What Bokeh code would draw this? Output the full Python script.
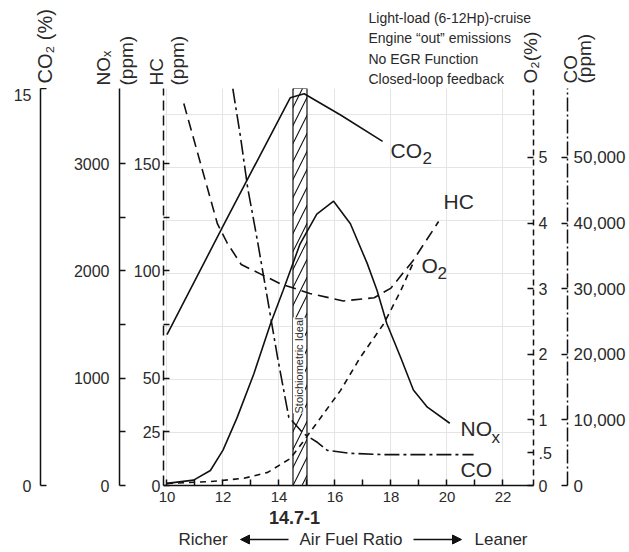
from math import pi
from bokeh.plotting import figure
from bokeh.layouts import column
from bokeh.models import (Range1d, LinearAxis, FixedTicker, Label, Arrow,
                          NormalHead, NumeralTickFormatter)
from bokeh.core.properties import value
from bokeh.embed import file_html
from bokeh.resources import INLINE

FONT = "Liberation Sans"
INK = "#111111"
TXT = "#2a2a2a"

# ---------------- data ----------------
afr_co2 = [10.0, 12.0, 14.4, 14.9, 16.2, 17.7]
co2_pct = [5.7, 9.8, 14.65, 14.8, 14.0, 13.0]

afr_nox = [10.0, 10.95, 11.55, 12.0, 12.5, 13.1, 13.7, 14.15, 14.75, 15.35,
           15.95, 16.55, 17.15, 17.5, 17.85, 18.35, 18.8, 19.3, 20.1]
nox_ppm = [20, 50, 140, 330, 630, 1040, 1510, 1820, 2250, 2530,
           2650, 2440, 2070, 1820, 1510, 1190, 890, 730, 580]

afr_hc = [10.6, 11.2, 11.8, 12.15, 12.65, 13.35, 14.05, 15.1, 16.3, 17.4,
          18.0, 18.8, 19.7]
hc_ppm = [178, 150, 122, 113, 103, 98.5, 94, 89.5, 86, 87.5, 92, 105, 123]

afr_o2 = [10.0, 11.55, 12.75, 13.6, 14.4, 14.9, 15.5, 16.2, 16.9, 17.75, 18.35, 18.8]
o2_pct = [0.03, 0.06, 0.11, 0.2, 0.41, 0.69, 1.04, 1.45, 1.95, 2.47, 2.97, 3.4]

afr_co = [12.35, 12.63, 12.88, 13.23, 13.6, 13.95, 14.35, 14.52, 14.88, 15.38,
          15.73, 16.55, 17.73, 20.95]
co_ppm = [60500, 53000, 45400, 37300, 28200, 19500, 10400, 9600, 7900, 6550,
          5350, 4900, 4700, 4700]

stoich_band = [14.5, 15.0]

x_ticks = [10, 12, 14, 16, 18, 20, 22]
x_minor = [11, 13, 15, 17, 19, 21]
co2_ticks = [0, 15]
nox_ticks = [0, 1000, 2000, 3000]
nox_minor = [500, 1500, 2500]
hc_ticks = [0, 25, 50, 100, 150]
hc_minor = [75, 125]
o2_ticks = [0, 0.5, 1, 2, 3, 4, 5]
co_ticks = [0, 10000, 20000, 30000, 40000, 50000]

notes = ["Light-load (6-12Hp)-cruise", "Engine \u201cout\u201d emissions",
         "No EGR Function", "Closed-loop feedback"]

W = 629
TOP_H = 88
MAIN_H = 420
BOT_H = 552 - TOP_H - MAIN_H


def blank_fig(height, y_top):
    f = figure(width=W, height=height, output_backend="svg", toolbar_location=None,
               x_range=Range1d(0, W), y_range=Range1d(y_top + height, y_top),
               x_axis_location=None, y_axis_location=None,
               min_border_left=0, min_border_right=0,
               min_border_top=0, min_border_bottom=0, frame_align=False)
    f.outline_line_color = None
    f.grid.grid_line_color = None
    f.background_fill_color = "white"
    f.border_fill_color = "white"
    return f


def txt(f, x, y, text, size, align="left", baseline="middle", angle=0.0, bold=False):
    f.text(x=[x], y=[y], text=[text], angle=angle,
           text_font=value(FONT), text_font_size=value(f"{size}px"),
           text_align=align, text_baseline=baseline, text_color=TXT,
           text_font_style="bold" if bold else "normal")


# ---------------- top strip: axis titles + notes ----------------
top = blank_fig(TOP_H, 0)
txt(top, 44, 83, "CO\u2082 (%)", 20, angle=pi / 2)
txt(top, 103, 85, "NO\u2093", 19, angle=pi / 2)
txt(top, 126, 85, "(ppm)", 19, angle=pi / 2)
txt(top, 156, 85, "HC", 19, angle=pi / 2)
txt(top, 177, 85, "(ppm)", 19, angle=pi / 2)
txt(top, 530, 83, "O\u2082(%)", 19, angle=pi / 2)
txt(top, 570, 83, "CO", 19, angle=pi / 2)
txt(top, 584, 83, "(ppm)", 19, angle=pi / 2)
for i, t in enumerate(notes):
    txt(top, 368, 17 + i * 20.5, t, 14)

# ---------------- main chart ----------------
p = figure(width=W, height=MAIN_H, output_backend="svg", toolbar_location=None,
           x_range=Range1d(9.875, 23.09), y_range=Range1d(0, 15),
           x_axis_location=None, y_axis_location=None,
           min_border_left=163, min_border_right=96,
           min_border_top=0, min_border_bottom=23, frame_align=False)
p.outline_line_color = None
p.background_fill_color = "white"
p.border_fill_color = "white"
p.extra_y_ranges = {"nox": Range1d(0, 3700), "hc": Range1d(0, 185),
                    "o2": Range1d(0, 6.05), "co": Range1d(0, 60500)}


def style_axis(ax, size="16px", standoff=6, pad=None, dash="solid"):
    ax.axis_line_color = INK
    ax.axis_line_width = 1.5
    ax.axis_line_dash = dash
    ax.major_tick_line_color = INK
    ax.major_tick_line_width = 1.5
    ax.major_tick_in = 6
    ax.major_tick_out = 0
    ax.minor_tick_line_color = INK
    ax.minor_tick_line_width = 1.5
    ax.minor_tick_in = 6
    ax.minor_tick_out = 0
    ax.major_label_text_font = FONT
    ax.major_label_text_font_size = size
    ax.major_label_text_color = TXT
    ax.major_label_standoff = standoff
    if pad is not None:
        ax.axis_label = "\u00a0"
        ax.axis_label_text_font_size = "1px"
        ax.axis_label_standoff = pad


xax = LinearAxis(ticker=FixedTicker(ticks=x_ticks, minor_ticks=x_minor))
style_axis(xax, size="15px", standoff=6)
p.add_layout(xax, "below")

hc_ax = LinearAxis(y_range_name="hc", ticker=FixedTicker(ticks=hc_ticks, minor_ticks=hc_minor))
style_axis(hc_ax, standoff=3, pad=7, dash="10 5")
p.add_layout(hc_ax, "left")

nox_ax = LinearAxis(y_range_name="nox", ticker=FixedTicker(ticks=nox_ticks, minor_ticks=nox_minor))
style_axis(nox_ax, standoff=10, pad=26)
p.add_layout(nox_ax, "left")

co2_ax = LinearAxis(ticker=FixedTicker(ticks=co2_ticks))
style_axis(co2_ax, standoff=9)
p.add_layout(co2_ax, "left")

o2_ax = LinearAxis(y_range_name="o2", ticker=FixedTicker(ticks=o2_ticks))
o2_ax.major_label_overrides = {0.5: ".5"}
style_axis(o2_ax, standoff=5, pad=9, dash="6 4")
p.add_layout(o2_ax, "right")

co_ax = LinearAxis(y_range_name="co", ticker=FixedTicker(ticks=co_ticks),
                   formatter=NumeralTickFormatter(format="0,0"))
style_axis(co_ax, size="17px", standoff=6, dash="14 3 2 3")
p.add_layout(co_ax, "right")

# stoichiometric band
p.quad(left=[stoich_band[0]], right=[stoich_band[1]], bottom=[0], top=[15],
       fill_color="white", line_color=INK, line_width=1.2,
       hatch_pattern="/", hatch_color=INK, hatch_scale=18, hatch_weight=1.1)

# curves
p.line(afr_co2, co2_pct, line_color=INK, line_width=1.6)
p.line(afr_nox, nox_ppm, y_range_name="nox", line_color=INK, line_width=1.6)
p.line(afr_hc, hc_ppm, y_range_name="hc", line_color=INK, line_width=1.6,
       line_dash="11 6")
p.line(afr_o2, o2_pct, y_range_name="o2", line_color=INK, line_width=1.6,
       line_dash="6 5")
p.line(afr_co, co_ppm, y_range_name="co", line_color=INK, line_width=1.6,
       line_dash="15 4 3 4")


def dx(px):
    return 9.875 + (px - 163) / 28.0


def dy(py):
    return (485 - py) / 26.467


def lab(px, py, text, size, align="left", angle=0.0, bg=None):
    lb = Label(x=dx(px), y=dy(py), text=text, text_font=FONT,
               text_font_size=f"{size}px", text_align=align,
               text_baseline="middle", angle=angle, text_color=TXT)
    if bg is not None:
        lb.background_fill_color = bg
    p.add_layout(lb)


lab(390, 150, "CO", 21)
lab(422, 157, "2", 17)
lab(443, 201, "HC", 21)
lab(421, 265, "O", 21)
lab(437, 272, "2", 17)
lab(460, 428, "NO", 21)
lab(491, 437, "x", 17)
lab(460, 469, "CO", 21)
lab(298.5, 365, "Stoichiometric Ideal", 11, align="center", angle=pi / 2, bg="white")

# ---------------- bottom strip: x-axis annotations ----------------
bot = blank_fig(BOT_H, TOP_H + MAIN_H)
txt(bot, 294, 517, "14.7-1", 18, align="center", bold=True)
txt(bot, 178, 539, "Richer", 17)
txt(bot, 350.5, 539, "Air Fuel Ratio", 17, align="center")
txt(bot, 527, 539, "Leaner", 17, align="right")
bot.add_layout(Arrow(x_start=288, y_start=539, x_end=240, y_end=539,
                     end=NormalHead(size=9, fill_color=INK, line_color=INK),
                     line_color=INK, line_width=1.5))
bot.add_layout(Arrow(x_start=413, y_start=539, x_end=461, y_end=539,
                     end=NormalHead(size=9, fill_color=INK, line_color=INK),
                     line_color=INK, line_width=1.5))

layout = column(top, p, bot, spacing=0)
open("out.html", "w").write(file_html(layout, INLINE))
